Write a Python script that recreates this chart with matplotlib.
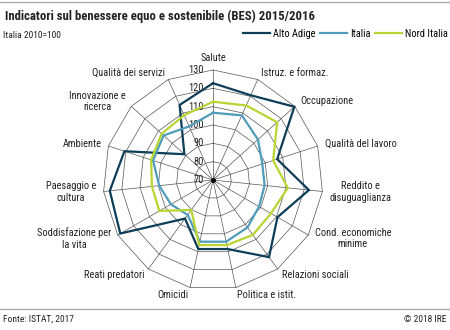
import numpy as np
import matplotlib
matplotlib.use("Agg")
import matplotlib.pyplot as plt

plt.rcParams['font.family'] = ['Liberation Sans Narrow', 'Roboto Condensed', 'DejaVu Sans']

categories = ["Salute", "Istruz. e formaz.", "Occupazione", "Qualità del lavoro",
              "Reddito e\ndisuguaglianza", "Cond. economiche\nminime", "Relazioni sociali",
              "Politica e istit.", "Omicidi", "Reati predatori", "Soddisfazione per\nla vita",
              "Paesaggio e\ncultura", "Ambiente", "Innovazione e\nricerca", "Qualità dei servizi"]

alto_adige = [122.8, 120.6, 129.7, 106.8, 122.6, 110.6, 122.0, 108.5, 108.5, 96.0, 128.4, 126.6, 120.8, 91.0, 114.8]
italia = [106.7, 108.6, 103.0, 98.3, 98.3, 99.0, 102.0, 104.4, 104.4, 93.5, 96.5, 99.5, 104.4, 106.3, 102.0]
nord_italia = [112.7, 114.5, 117.1, 104.5, 111.0, 106.5, 107.0, 106.3, 106.3, 90.2, 103.8, 103.5, 105.5, 107.7, 108.7]

rings = [80, 90, 100, 110, 120, 130]
base = 70

series = [("Alto Adige", alto_adige, "#0e3d57"),
          ("Italia", italia, "#4f9cbb"),
          ("Nord Italia", nord_italia, "#b9d532")]

n = len(categories)
theta = np.arange(n) * 2 * np.pi / n


def to_xy(vals):
    r = np.asarray(vals, dtype=float) - base
    x = r * np.sin(theta)
    y = r * np.cos(theta)
    return np.append(x, x[0]), np.append(y, y[0])


fig = plt.figure(figsize=(4.5, 3.3), dpi=100)
ax = fig.add_axes([92 / 450, 29 / 330, 242 / 450, 242 / 330])
ax.set_xlim(-66, 66)
ax.set_ylim(-66, 66)
ax.set_aspect('equal')
ax.axis('off')

# polygon grid
grid_col = "#555555"
for v in rings:
    gx, gy = to_xy([v] * n)
    ax.plot(gx, gy, color=grid_col, lw=0.5, zorder=1)
outer = rings[-1] - base
for t in theta:
    ax.plot([0, outer * np.sin(t)], [0, outer * np.cos(t)], color=grid_col, lw=0.5, zorder=1)
ax.plot([0], [0], 'o', color='black', ms=2.5, zorder=2)

for v in [base] + rings:
    ax.text(-5.0, v - base, str(v), ha='right', va='center', fontsize=7.5, color='#222222', zorder=3)

# data
handles = []
for name, vals, col in series:
    sx, sy = to_xy(vals)
    h, = ax.plot(sx, sy, color=col, lw=1.6, label=name, zorder=4, solid_joinstyle='miter')
    handles.append(h)

# category labels
R = 64
for t, lab in zip(theta, categories):
    s = np.sin(t)
    x, y = R * s, R * np.cos(t)
    if abs(s) < 1e-6:
        ha, va = 'center', 'bottom'
    elif s > 0:
        ha, va = 'left', 'center'
    else:
        ha, va = 'right', 'center'
    ax.text(x, y, lab, ha=ha, va=va, fontsize=7.5, color='#222222', multialignment='center', clip_on=False)

# header / footer
fig.text(5 / 450, 1 - 16 / 330, "Indicatori sul benessere equo e sostenibile (BES) 2015/2016",
         fontsize=9.2, fontweight='bold', color='#222222', va='center', ha='left')
fig.text(3 / 450, 1 - 35 / 330, "Italia 2010=100", fontsize=6.8, color='#222222', va='center')
fig.legend(handles=handles, loc='center right', bbox_to_anchor=(0.995, 1 - 34 / 330), ncol=3,
           frameon=False, fontsize=7.5, handlelength=2.6, handletextpad=0.3, columnspacing=0.4,
           borderaxespad=0, borderpad=0)

fig.add_artist(plt.Line2D([0, 1], [1 - 1.5 / 330, 1 - 1.5 / 330], color='#aaaaaa', lw=1))
fig.add_artist(plt.Line2D([0, 1], [1 - 309 / 330, 1 - 309 / 330], color='#aaaaaa', lw=1))
fig.text(3 / 450, 1 - 319 / 330, "Fonte: ISTAT, 2017", fontsize=6.8, color='#222222', va='center')
fig.text(447 / 450, 1 - 319 / 330, "© 2018 IRE", fontsize=6.8, color='#222222', va='center', ha='right')

fig.savefig("out.png", dpi=100)
